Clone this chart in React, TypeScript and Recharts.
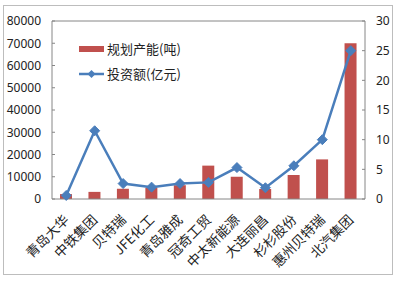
import React from 'react';
import { ComposedChart, Bar, Line, XAxis, YAxis, ReferenceLine } from 'recharts';

const categories = ['青岛大华', '中铁集团', '贝特瑞', 'JFE化工', '青岛雅成', '冠奇工贸', '中太新能源', '大连丽昌', '杉杉股份', '惠州贝特瑞', '北汽集团'];
const capacity = [2200, 3200, 4600, 5000, 6200, 15000, 10000, 4500, 10800, 17800, 70000];
const investment = [0.6, 11.5, 2.6, 2.0, 2.6, 2.8, 5.3, 1.9, 5.6, 10, 25];
const leftTicks = [0, 10000, 20000, 30000, 40000, 50000, 60000, 70000, 80000];
const rightTicks = [0, 5, 10, 15, 20, 25, 30];
const legendLabels = ['规划产能(吨)', '投资额(亿元)'];

const data = categories.map((name, i) => ({ name, capacity: capacity[i], investment: investment[i] }));

const BAR = '#C0504D';
const LINE = '#4A7EBB';
const AXIS = '#868686';
const FONT = '"Noto Sans", sans-serif';
const CJK = '"Noto Sans CJK SC", sans-serif';

const Diamond = (props: any) => {
  const { cx, cy } = props;
  if (cx == null || cy == null) return null;
  const r = 5;
  return <polygon points={`${cx},${cy - r} ${cx + r},${cy} ${cx},${cy + r} ${cx - r},${cy}`} fill={LINE} stroke={LINE} />;
};

const XTick = (props: any) => {
  const { x, y, payload } = props;
  return (
    <g transform={`translate(${x + 1},${y + 11})`}>
      <text transform="rotate(-45)" textAnchor="end" dominantBaseline="middle" fontSize={13.5} fontFamily={CJK} fill="#222">
        {payload.value}
      </text>
    </g>
  );
};

const LegendBox = () => (
  <div style={{ position: 'absolute', left: 79, top: 38, fontFamily: CJK, fontSize: 13, color: '#222', lineHeight: '20px' }}>
    <div style={{ display: 'flex', alignItems: 'center', height: 22 }}>
      <svg width={28} height={10}><rect x={0} y={2} width={25} height={6} fill={BAR} /></svg>
      <span>{legendLabels[0]}</span>
    </div>
    <div style={{ display: 'flex', alignItems: 'center', height: 22, marginTop: 3 }}>
      <svg width={28} height={12}>
        <line x1={0} y1={6} x2={25} y2={6} stroke={LINE} strokeWidth={2.5} />
        <polygon points="12.5,2 16.5,6 12.5,10 8.5,6" fill={LINE} />
      </svg>
      <span>{legendLabels[1]}</span>
    </div>
  </div>
);

export default function App() {
  return (
    <div style={{ position: 'absolute', left: 0, top: 0, width: 401, height: 284, background: '#fff' }}>
      <div style={{ position: 'absolute', left: 3, top: 5, width: 390, height: 270, border: '1px solid #bdbdbd', boxSizing: 'border-box' }} />
      <ComposedChart width={401} height={284} data={data} margin={{ top: 21, right: 0, bottom: 0, left: 0 }} barCategoryGap="50%">
        <XAxis dataKey="name" height={85} interval={0} tick={<XTick />} tickLine={false} axisLine={{ stroke: AXIS }} />
        <YAxis yAxisId="left" width={52} domain={[0, 80000]} ticks={leftTicks} interval={0}
          tick={{ fontSize: 12, fontFamily: FONT, fill: '#222' }} tickSize={-3} tickMargin={14}
          tickLine={{ stroke: AXIS }} axisLine={{ stroke: AXIS }} />
        <YAxis yAxisId="right" orientation="right" width={36} domain={[0, 30]} ticks={rightTicks} interval={0}
          tick={{ fontSize: 12, fontFamily: FONT, fill: '#222', textAnchor: 'start' }} tickSize={-3} tickMargin={14}
          tickLine={{ stroke: AXIS }} axisLine={{ stroke: AXIS }} />
        <ReferenceLine yAxisId="left" y={80000} stroke={AXIS} />
        <Bar yAxisId="left" dataKey="capacity" fill={BAR} barSize={12} isAnimationActive={false} />
        <Line yAxisId="right" dataKey="investment" stroke={LINE} strokeWidth={2.5} dot={<Diamond />} activeDot={false} isAnimationActive={false} />
      </ComposedChart>
      <LegendBox />
    </div>
  );
}
